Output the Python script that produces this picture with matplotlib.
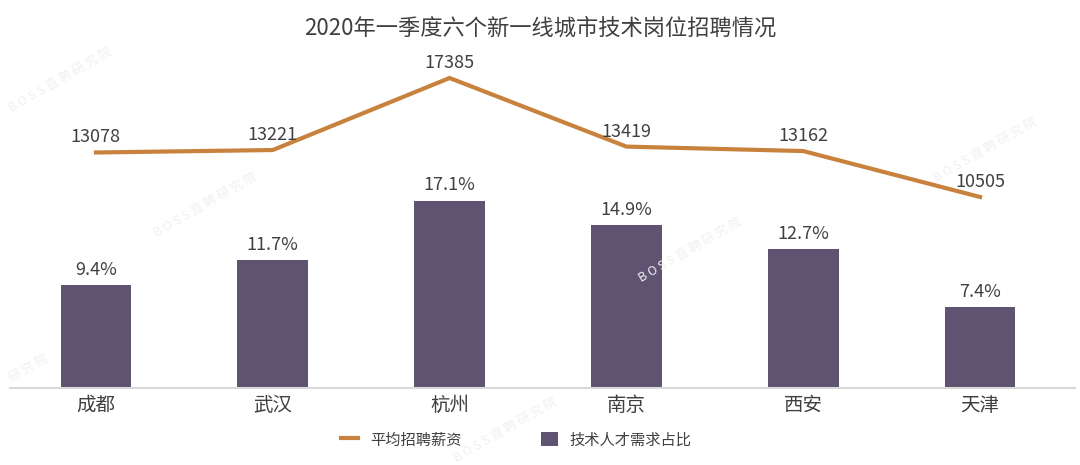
import matplotlib
matplotlib.use("Agg")
import matplotlib.pyplot as plt
from matplotlib.lines import Line2D
from matplotlib.patches import Patch

plt.rcParams['font.family'] = ['Noto Sans CJK SC', 'DejaVu Sans']

cities = ["成都", "武汉", "杭州", "南京", "西安", "天津"]
salary = [13078, 13221, 17385, 13419, 13162, 10505]
share = [9.4, 11.7, 17.1, 14.9, 12.7, 7.4]
title = "2020年一季度六个新一线城市技术岗位招聘情况"
legend_labels = ["平均招聘薪资", "技术人才需求占比"]

bar_color = "#5E5472"
line_color = "#C8823E"
text_color = "#404040"

W, H = 1080, 465
fig = plt.figure(figsize=(W / 100, H / 100), dpi=100)
left, right, base, top = 10, 1075, 388, 60
ax = fig.add_axes([left / W, (H - base) / H, (right - left) / W, (base - top) / H])
x = list(range(len(cities)))

ax.bar(x, share, width=0.40, color=bar_color, zorder=2)
for xi, v in zip(x, share):
    ax.text(xi, v + 0.6, f"{v}%", ha="center", va="bottom", fontsize=13, color=text_color)
ax.set_ylim(0, 30.0)
ax.set_xlim(-0.486, 5.537)
ax.set_xticks(x)
ax.set_xticklabels(cities, fontsize=14, color=text_color)
ax.tick_params(axis="x", length=0, pad=5)
ax.set_yticks([])
for s in ["top", "right", "left"]:
    ax.spines[s].set_visible(False)
ax.spines["bottom"].set_color("#D9D9D9")
ax.spines["bottom"].set_linewidth(1.5)

ax2 = ax.twinx()
ax2.plot(x, salary, color=line_color, linewidth=3, solid_joinstyle="miter", zorder=3)
for xi, v in zip(x, salary):
    ax2.text(xi, v + 350, f"{v}", ha="center", va="bottom", fontsize=13, color=text_color)
ax2.set_ylim(-535, 18425)
ax2.set_yticks([])
for s in ax2.spines.values():
    s.set_visible(False)

fig.text(0.5, 0.94, title, ha="center", va="center", fontsize=16, color=text_color)

# watermarks
wm = "B O S S 直 聘 研 究 院"
for (px, py, t) in [(205, 205, wm), (690, 250, wm), (985, 150, wm), (505, 430, wm),
                    (28, 368, "研 究 院"), (60, 80, wm)]:
    fig.text(px / W, 1 - py / H, t, ha="center", va="center", fontsize=9,
             color="#F0F0F0", rotation=30, zorder=0)

handles = [Line2D([0], [0], color=line_color, linewidth=3),
           Patch(facecolor=bar_color, edgecolor="none")]
fig.legend(handles, legend_labels, loc="center", bbox_to_anchor=(0.478, 1 - 440 / H),
           ncol=2, frameon=False, fontsize=11, columnspacing=5.2, handlelength=1.1,
           handleheight=1.0, labelcolor=text_color)

fig.savefig("out.png", dpi=100)
